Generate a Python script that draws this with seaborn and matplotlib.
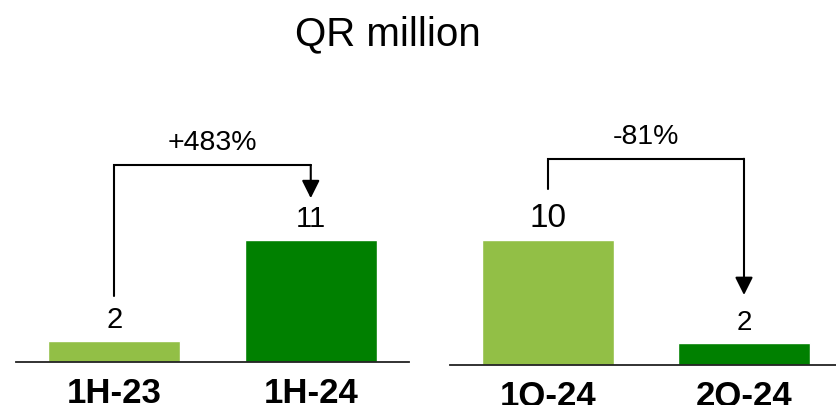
import matplotlib
matplotlib.use("Agg")
import matplotlib.pyplot as plt
from matplotlib import font_manager
import seaborn as sns
import pandas as pd

# Half-year comparison
half_labels = ["1H-23", "1H-24"]
half_values = [1.9, 11.0]
half_change = "+483%"

# Quarter comparison
quarter_labels = ["1Q-24", "2Q-24"]
quarter_values = [10.0, 1.8]
quarter_change = "-81%"

title = "QR million"

LIGHT_GREEN = "#92BF46"
DARK_GREEN = "#008000"

sns.set_theme(style="white")
plt.rcParams["font.family"] = ["Liberation Sans", "DejaVu Sans"]

# condensed bold face for the period labels, if present
installed = {f.name for f in font_manager.fontManager.ttflist}
if "Liberation Sans Narrow" in installed:
    TICK_FONT, TICK_SIZE = ["Liberation Sans Narrow", "DejaVu Sans"], 30
else:
    TICK_FONT, TICK_SIZE = ["Liberation Sans", "DejaVu Sans"], 25

W, H = 836, 406
fig = plt.figure(figsize=(W / 100, H / 100), dpi=100)


def panel(rect, labels, values, change, ymax, label_sizes, top_gap):
    ax = fig.add_axes(rect)
    df = pd.DataFrame({"period": labels, "value": values})
    sns.barplot(data=df, x="period", y="value", hue="period",
                palette=[LIGHT_GREEN, DARK_GREEN], width=0.67,
                legend=False, ax=ax, saturation=1)
    ax.set_xlim(-0.5, 1.5)
    ax.set_ylim(0, ymax)
    ax.set_xlabel("")
    ax.set_ylabel("")
    ax.set_yticks([])
    for side in ("top", "left", "right"):
        ax.spines[side].set_visible(False)
    ax.spines["bottom"].set_color("#222222")
    ax.spines["bottom"].set_linewidth(1.3)
    ax.tick_params(axis="x", length=0, pad=10)
    for t in ax.get_xticklabels():
        t.set_fontfamily(TICK_FONT)
        t.set_fontsize(TICK_SIZE)
        t.set_fontweight("bold")
        t.set_color("black")

    # value labels above bars
    for i, v in enumerate(values):
        ax.annotate(f"{v:.0f}", xy=(i, v), xytext=(0, 10),
                    textcoords="offset points", ha="center", va="baseline",
                    fontsize=label_sizes[i], color="black")

    # change bracket from first bar to second bar
    start = values[0] + 4.1
    top = max(values) + top_gap
    tip = values[1] + 3.8
    ax.plot([0, 0, 1], [start, top, top], color="black", lw=1.5,
            solid_joinstyle="miter", clip_on=False)
    ax.annotate("", xy=(1, tip), xytext=(1, top),
                arrowprops=dict(arrowstyle="-|>,head_length=1.08,head_width=0.54",
                                mutation_scale=10, color="black", lw=1.5,
                                shrinkA=0, shrinkB=0))
    ax.annotate(change, xy=(0.5, top), xytext=(0, 11.5),
                textcoords="offset points", ha="center", va="baseline",
                fontsize=20.5, color="black")
    return ax


# left panel: baseline at y=363 px, 11.07 px per unit
left_rect = [16 / W, (H - 363) / H, 393 / W, 363 / H]
panel(left_rect, half_labels, half_values, half_change, 363 / 11.07,
      [21, 21], 6.8)

# right panel: baseline at y=366 px, 12.5 px per unit
right_rect = [450 / W, (H - 366) / H, 392 / W, 366 / H]
panel(right_rect, quarter_labels, quarter_values, quarter_change, 366 / 12.5,
      [24, 20], 6.5)

fig.text(387.5 / W, 1 - 45 / H, title, ha="center", va="baseline",
         fontsize=29, color="black")

fig.savefig("out.png", dpi=100, facecolor="white")
